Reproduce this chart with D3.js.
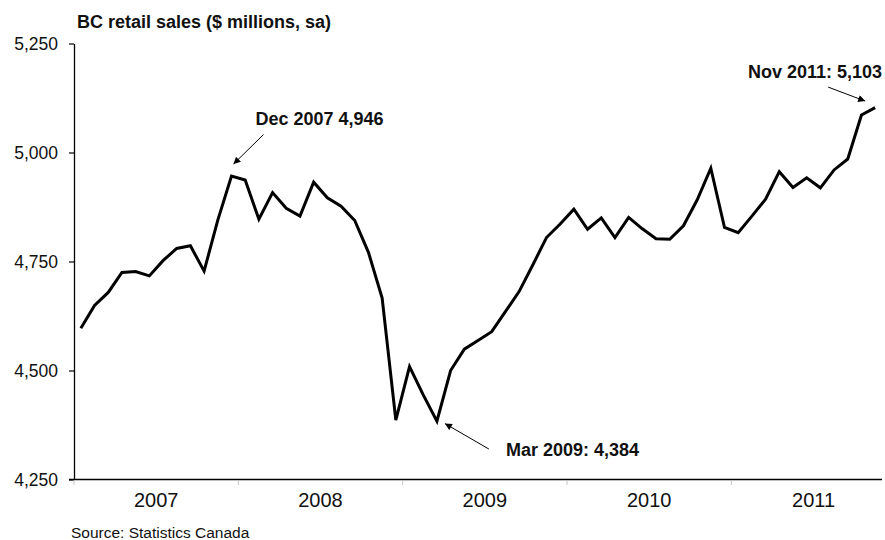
<!DOCTYPE html>
<html>
<head>
<meta charset="utf-8">
<script src="https://cdn.jsdelivr.net/npm/d3@7"></script>
<style>
  html, body { margin: 0; padding: 0; background: #fff; }
  svg { display: block; font-family: "Liberation Sans", Arial, Helvetica, sans-serif; }
</style>
</head>
<body>
<svg id="chart" width="885" height="540"></svg>
<script>
// Monthly BC retail sales, seasonally adjusted ($ millions), Jan 2007 – Nov 2011
const years = ["2007", "2008", "2009", "2010", "2011"];
const sales2007 = [4597, 4649, 4679, 4725, 4727, 4717, 4752, 4780, 4786, 4728, 4845, 4946];
const sales2008 = [4937, 4847, 4908, 4872, 4854, 4932, 4896, 4877, 4844, 4771, 4666, 4386];
const sales2009 = [4509, 4444, 4384, 4500, 4549, 4569, 4589, 4635, 4681, 4742, 4805, 4836];
const sales2010 = [4870, 4824, 4850, 4805, 4851, 4825, 4802, 4801, 4832, 4891, 4964, 4828];
const sales2011 = [4816, 4854, 4893, 4956, 4920, 4942, 4919, 4960, 4985, 5086, 5103];
const yTicks = [4250, 4500, 4750, 5000, 5250];

// Callouts: month index (from Jan 2007), text, value
const callouts = [
  { idx: 11, text: "Dec 2007 4,946", value: 4946 },
  { idx: 26, text: "Mar 2009: 4,384", value: 4384 },
  { idx: 58, text: "Nov 2011: 5,103", value: 5103 }
];

const sales = [].concat(sales2007, sales2008, sales2009, sales2010, sales2011);

const svg = d3.select("#chart");
const plotLeft = 74, plotRight = 882, plotTop = 43.5, plotBottom = 479.5;

const x = d3.scaleLinear().domain([0, 59]).range([plotLeft, plotRight]);
const y = d3.scaleLinear().domain([4250, 5250]).range([plotBottom, plotTop]);

// Title
svg.append("text")
  .attr("x", 77).attr("y", 28)
  .attr("font-size", 18).attr("font-weight", "bold")
  .attr("fill", "#111")
  .text("BC retail sales ($ millions, sa)");

// Y axis
const yAxis = svg.append("g")
  .attr("transform", `translate(${plotLeft},0)`)
  .call(d3.axisLeft(y).tickValues(yTicks).tickFormat(d3.format(",")).tickSize(5).tickSizeOuter(0).tickPadding(11));
yAxis.select(".domain").attr("stroke", "#000").attr("stroke-width", 1.3);
yAxis.selectAll(".tick line").attr("stroke", "#000").attr("stroke-width", 1.2);
yAxis.selectAll(".tick text")
  .attr("font-size", 17.5).attr("fill", "#111")
  .attr("font-family", "'Liberation Sans', Arial, sans-serif");

// X axis baseline
svg.append("line")
  .attr("x1", plotLeft - 5).attr("x2", plotRight)
  .attr("y1", plotBottom).attr("y2", plotBottom)
  .attr("stroke", "#000").attr("stroke-width", 1.3);

// Year boundary ticks
svg.append("g").selectAll("line")
  .data(years)
  .join("line")
  .attr("x1", (d, i) => x(i * 12)).attr("x2", (d, i) => x(i * 12))
  .attr("y1", plotBottom + 0.7).attr("y2", plotBottom + 5.5)
  .attr("stroke", "#c4c4c4").attr("stroke-width", 1);

// Year labels
svg.append("g").selectAll("text")
  .data(years)
  .join("text")
  .attr("x", (d, i) => x(i * 12 + 6))
  .attr("y", 507)
  .attr("text-anchor", "middle")
  .attr("font-size", 20).attr("fill", "#111")
  .text(d => d);

// Sales line
const line = d3.line()
  .x((d, i) => x(i + 0.5))
  .y(d => y(d));

svg.append("path")
  .datum(sales)
  .attr("d", line)
  .attr("fill", "none")
  .attr("stroke", "#000")
  .attr("stroke-width", 3)
  .attr("stroke-linejoin", "miter")
  .attr("stroke-miterlimit", 4);

// Arrowhead marker
svg.append("defs").append("marker")
  .attr("id", "arrow")
  .attr("viewBox", "0 0 10 10")
  .attr("refX", 10).attr("refY", 5)
  .attr("markerUnits", "userSpaceOnUse")
  .attr("markerWidth", 9).attr("markerHeight", 7)
  .attr("orient", "auto")
  .append("path")
  .attr("d", "M0,0 L10,5 L0,10 z")
  .attr("fill", "#000");

// Callout labels and arrows; arrows point at the labelled data point
const calloutLayout = [
  { tx: 24, ty: -51.5, sx: 32, sy: -41.5, ex: 2, ey: -12, anchor: "start" },
  { tx: 69, ty: 35,    sx: 52, sy: 28,    ex: 8, ey: 2.5, anchor: "start" },
  { tx: 6,  ty: -29.5, sx: -47, sy: -20.5, ex: -10, ey: -6.5, anchor: "end" }
];
callouts.forEach((c, k) => {
  const px = x(c.idx + 0.5), py = y(c.value);
  const L = calloutLayout[k];
  svg.append("line")
    .attr("x1", px + L.sx).attr("y1", py + L.sy)
    .attr("x2", px + L.ex).attr("y2", py + L.ey)
    .attr("stroke", "#000").attr("stroke-width", 1)
    .attr("marker-end", "url(#arrow)");
  svg.append("text")
    .attr("x", L.anchor === "end" ? plotRight : px + L.tx)
    .attr("y", py + L.ty)
    .attr("text-anchor", L.anchor)
    .attr("font-size", 18).attr("font-weight", "bold").attr("fill", "#111")
    .text(c.text);
});

// Source note
svg.append("text")
  .attr("x", 71).attr("y", 538)
  .attr("font-size", 15.5).attr("fill", "#111")
  .text("Source: Statistics Canada");
</script>
</body>
</html>
